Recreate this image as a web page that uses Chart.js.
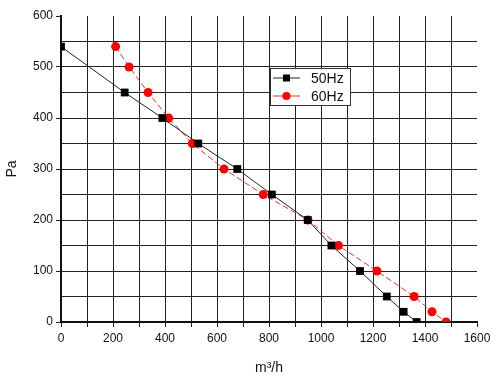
<!DOCTYPE html>
<html>
<head>
<meta charset="utf-8">
<script src="https://cdn.jsdelivr.net/npm/chart.js@4"></script>
<style>
  html, body { margin: 0; padding: 0; background: #fff; }
  #wrap { width: 500px; height: 381px; position: relative; }
</style>
</head>
<body>
<div id="wrap"><canvas id="fanChart"></canvas></div>
<script>
// fan curves, flow (m3/h) vs pressure (Pa)
const flow50 = [0, 245, 390, 528, 678, 811, 949, 1040, 1150, 1253, 1318, 1368];
const pa50 = [540, 450, 400, 350, 300, 250, 200, 150, 100, 50, 20, 0];
const flow60 = [210, 262, 335, 414, 505, 627, 778, 950, 1067, 1215, 1358, 1427, 1481];
const pa60 = [540, 500, 450, 400, 350, 300, 250, 200, 150, 100, 50, 20, 0];
const seriesNames = ['50Hz', '60Hz'];

const toPoints = (xs, ys) => xs.map((x, i) => ({ x: x, y: ys[i] }));

// little boxed legend inside the plot, line - marker - line like the original
const boxLegend = {
    id: 'boxLegend',
    afterDraw(chart) {
        const c = chart.ctx;
        const x0 = 270, y0 = 68, w = 80, h = 37;
        c.save();
        c.fillStyle = '#fff';
        c.fillRect(x0, y0, w, h);
        c.strokeStyle = '#333';
        c.lineWidth = 1;
        c.strokeRect(x0 + 0.5, y0 + 0.5, w, h);
        chart.data.datasets.forEach((ds, i) => {
            const y = y0 + 10 + i * 18;
            c.strokeStyle = ds.borderColor;
            c.setLineDash([]);
            c.beginPath();
            c.moveTo(x0 + 3, y);
            c.lineTo(x0 + 30, y);
            c.stroke();
            c.fillStyle = ds.pointBackgroundColor;
            if (ds.pointStyle === 'rect') {
                c.fillRect(x0 + 13, y - 3.5, 7, 7);
            } else {
                c.beginPath();
                c.arc(x0 + 16.5, y, 4, 0, Math.PI * 2);
                c.fill();
            }
            c.fillStyle = '#111';
            c.font = '14px "Liberation Sans", Arial, sans-serif';
            c.textBaseline = 'middle';
            c.fillText(ds.label, x0 + 41, y + 1);
        });
        c.restore();
    }
};

const ctx = document.getElementById('fanChart').getContext('2d');
new Chart(ctx, {
    type: 'scatter',
    data: {
        datasets: [{
            label: seriesNames[0],
            data: toPoints(flow50, pa50),
            showLine: true,
            borderColor: '#222',
            borderWidth: 1,
            pointStyle: 'rect',
            pointRadius: 5.5,
            pointBackgroundColor: '#000',
            pointBorderColor: '#000',
            pointBorderWidth: 0
        }, {
            label: seriesNames[1],
            data: toPoints(flow60, pa60),
            showLine: true,
            borderColor: '#e8302a',
            borderWidth: 1,
            borderDash: [6, 3],
            pointStyle: 'circle',
            pointRadius: 4.5,
            pointBackgroundColor: '#ff0000',
            pointBorderColor: '#ff0000',
            pointBorderWidth: 0
        }]
    },
    options: {
        responsive: true,
        maintainAspectRatio: false,
        animation: false,
        layout: {
            padding: { top: 16, right: 23, left: 0, bottom: 0 }
        },
        plugins: {
            legend: { display: false },
            tooltip: { enabled: false }
        },
        scales: {
            x: {
                type: 'linear',
                min: 0,
                max: 1600,
                afterFit: (s) => { s.height = 59; },
                ticks: {
                    stepSize: 100,
                    autoSkip: false,
                    maxRotation: 0,
                    color: '#111',
                    font: { size: 12, family: '"Liberation Sans", Arial, sans-serif' },
                    padding: 4,
                    callback: (v) => (v % 200 === 0 ? v : '')
                },
                grid: {
                    color: (c) => (c.tick && c.tick.value === 1600 ? 'rgba(0,0,0,0)' : '#222'),
                    lineWidth: 1,
                    tickColor: '#222',
                    tickLength: 5
                },
                border: { color: '#111', width: 2 },
                title: {
                    display: true,
                    text: 'm³/h',
                    color: '#111',
                    font: { size: 14, family: '"Liberation Sans", Arial, sans-serif' },
                    padding: { top: 0 }
                }
            },
            y: {
                min: 0,
                max: 600,
                afterFit: (s) => { s.width = 61; },
                ticks: {
                    stepSize: 50,
                    autoSkip: false,
                    color: '#111',
                    font: { size: 12, family: '"Liberation Sans", Arial, sans-serif' },
                    padding: 3,
                    callback: (v) => (v % 100 === 0 ? v : '')
                },
                grid: {
                    color: (c) => (c.tick && c.tick.value === 600 ? 'rgba(0,0,0,0)' : '#222'),
                    lineWidth: 1,
                    tickColor: (c) => (c.tick && c.tick.value % 100 === 0 ? '#222' : 'rgba(0,0,0,0)'),
                    tickLength: 5
                },
                border: { color: '#111', width: 2 },
                title: {
                    display: true,
                    text: 'Pa',
                    color: '#111',
                    font: { size: 14, family: '"Liberation Sans", Arial, sans-serif' },
                    padding: { bottom: 6 }
                }
            }
        }
    },
    plugins: [boxLegend]
});
</script>
</body>
</html>
